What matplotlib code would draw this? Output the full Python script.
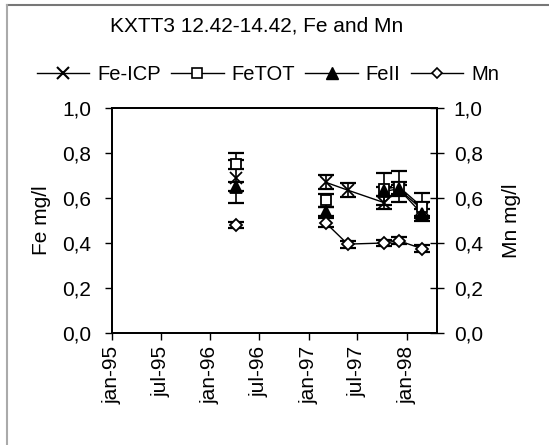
import numpy as np
import matplotlib
matplotlib.use("Agg")
import matplotlib.pyplot as plt
import matplotlib.dates as mdates
from matplotlib.lines import Line2D
import datetime as dt

plt.rcParams['font.family'] = ['Liberation Sans', 'DejaVu Sans']

# ---- data ----
dates = ["1996-04-07", "1997-03-05", "1997-05-26", "1997-10-07", "1997-12-02", "1998-02-26"]
fe_icp = [0.69, 0.67, 0.635, 0.58, 0.64, 0.55]
fe_icp_err = [0.11, 0.03, 0.03, 0.03, 0.03, 0.03]
fetot = [0.75, 0.59, np.nan, 0.64, 0.65, 0.56]
fetot_err = [0.02, 0.03, np.nan, 0.07, 0.07, 0.06]
feii = [0.65, 0.54, np.nan, 0.63, 0.64, 0.53]
feii_err = [0.02, 0.02, np.nan, 0.02, 0.02, 0.02]
mn = [0.48, 0.49, 0.395, 0.40, 0.41, 0.375]
mn_err = [0.015, 0.02, 0.015, 0.015, 0.015, 0.015]
tick_dates = ["1995-01-01", "1995-07-01", "1996-01-01", "1996-07-01", "1997-01-01", "1997-07-01", "1998-01-01"]
tick_labels = ["jan-95", "jul-95", "jan-96", "jul-96", "jan-97", "jul-97", "jan-98"]
y_ticks = [0.0, 0.2, 0.4, 0.6, 0.8, 1.0]
y_tick_labels = ["0,0", "0,2", "0,4", "0,6", "0,8", "1,0"]
series_names = ["Fe-ICP", "FeTOT", "FeII", "Mn"]
title = "KXTT3 12.42-14.42, Fe and Mn"

x = np.array([mdates.date2num(dt.date.fromisoformat(d)) for d in dates])
xt = [mdates.date2num(dt.date.fromisoformat(d)) for d in tick_dates]

fig = plt.figure(figsize=(5.49, 4.45), dpi=100)
ax = fig.add_axes([112/549, 1-333/445, (437-112)/549, (333-108)/445])
ax2 = ax.twinx()

FS = 15

def plot_series(a, vals, errs, marker, mfc, ms):
    vals = np.array(vals, float)
    errs = np.array(errs, float)
    a.errorbar(x, vals, yerr=errs, fmt='none', ecolor='black', elinewidth=1.2,
               capsize=6, capthick=1.6, zorder=3)
    # line: the first sample is isolated (gap before the next one)
    a.plot(x[1:], vals[1:], color='black', lw=1.0, zorder=2)
    a.plot(x, vals, ls='none', marker=marker, mfc=mfc, mec='black', mew=1.3,
           ms=ms, zorder=4)

plot_series(ax, fe_icp, fe_icp_err, 'x', 'black', 8)
plot_series(ax, fetot, fetot_err, 's', 'white', 7)
plot_series(ax, feii, feii_err, '^', 'black', 8)
plot_series(ax2, mn, mn_err, 'D', 'white', 6)

ax.set_xlim(mdates.date2num(dt.date(1995, 1, 1)), mdates.date2num(dt.date(1998, 4, 23)))
ax.set_ylim(0, 1.0)
ax2.set_ylim(0, 1.0)
ax.set_xticks(xt)
ax.set_xticklabels(tick_labels, rotation=90, fontsize=FS)
ax.set_yticks(y_ticks)
ax.set_yticklabels(y_tick_labels, fontsize=FS)
ax2.set_yticks(y_ticks)
ax2.set_yticklabels(y_tick_labels, fontsize=FS)
ax.tick_params(axis='x', direction='out', length=5, width=1, pad=4)
ax.tick_params(axis='y', direction='out', length=5, width=1, pad=10)
ax2.tick_params(axis='y', direction='inout', length=10, width=1, pad=7)
for a in (ax, ax2):
    for s in a.spines.values():
        s.set_linewidth(1.3)

ax.set_ylabel("Fe mg/l", fontsize=FS, labelpad=8)
ax2.set_ylabel("Mn mg/l", fontsize=FS, labelpad=14)

fig.text(257/549, 1-26/445, title, ha='center', va='center', fontsize=15)

handles = [
    Line2D([], [], color='black', lw=1, marker='x', ms=8, mew=1.5, mfc='black', mec='black'),
    Line2D([], [], color='black', lw=1, marker='s', ms=7, mfc='white', mec='black', mew=1.2),
    Line2D([], [], color='black', lw=1, marker='^', ms=8, mfc='black', mec='black'),
    Line2D([], [], color='black', lw=1, marker='D', ms=5, mfc='white', mec='black', mew=1.2),
]
fig.legend(handles, series_names, loc='center',
           bbox_to_anchor=(268/549, 1-75/445), ncol=4, frameon=False, fontsize=14.5,
           handlelength=2.6, handletextpad=0.4, columnspacing=0.5)

# outer frame (top and left edges visible)
fig.add_artist(Line2D([7/549, 1.0], [1-5/445, 1-5/445], transform=fig.transFigure,
                      color='#777777', lw=1.5))
fig.add_artist(Line2D([7/549, 7/549], [0, 1-5/445], transform=fig.transFigure,
                      color='#aaaaaa', lw=1.5))

fig.savefig("out.png", dpi=100)
